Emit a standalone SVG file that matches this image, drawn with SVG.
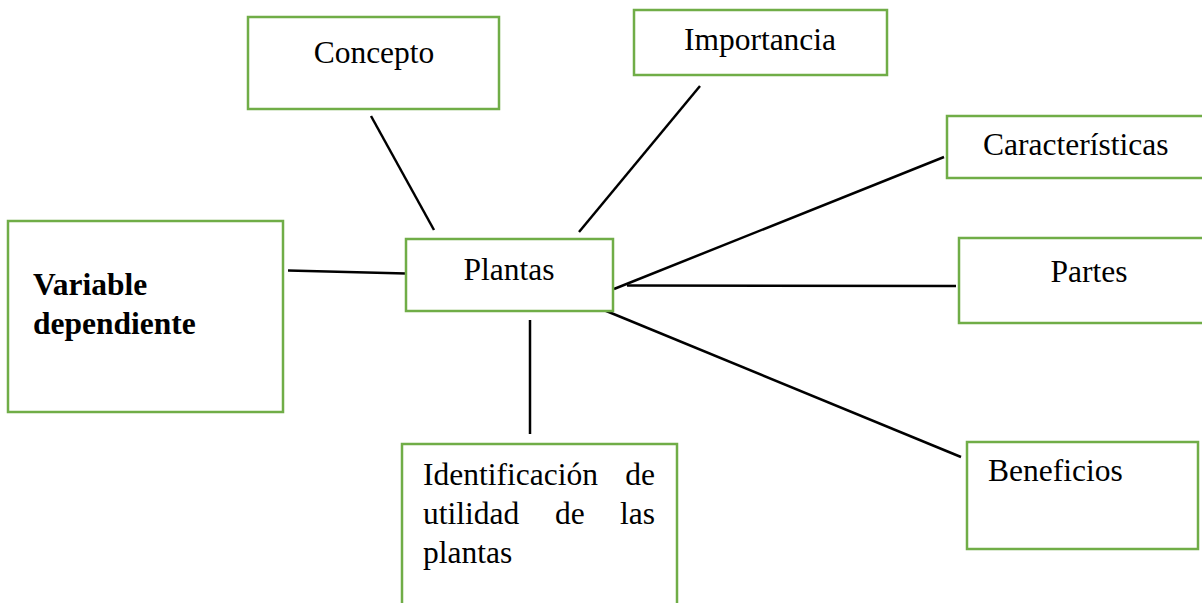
<svg xmlns="http://www.w3.org/2000/svg" width="1202" height="603" viewBox="0 0 1202 603">
<style>
.box{fill:#fff;stroke:#70AD47;stroke-width:2.5}
.t{font-family:"Liberation Serif","Times New Roman",serif;font-size:31.5px;fill:#000}
.b{font-weight:bold}
.c{stroke:#000;stroke-width:2.5;fill:none}
</style>
<rect width="1202" height="603" fill="#fff"/>
<g id="connectors">
<line class="c" x1="288" y1="270.5" x2="406" y2="273.5"/>
<line class="c" x1="371" y1="116" x2="434" y2="230"/>
<line class="c" x1="700" y1="86" x2="579" y2="232"/>
<line class="c" x1="614" y1="289" x2="944" y2="157"/>
<line class="c" x1="627" y1="285.5" x2="956" y2="286"/>
<line class="c" x1="599" y1="308" x2="961" y2="457"/>
<line class="c" x1="530" y1="320" x2="530" y2="434"/>
</g>
<g id="variable">
<rect class="box" x="8" y="221" width="275" height="191"/>
<text class="t b" x="33" y="295">Variable</text>
<text class="t b" x="33" y="334">dependiente</text>
</g>
<g id="concepto">
<rect class="box" x="248" y="17" width="251" height="92"/>
<text class="t" x="374" y="63" text-anchor="middle">Concepto</text>
</g>
<g id="importancia">
<rect class="box" x="634" y="10" width="253" height="65"/>
<text class="t" x="760" y="50" text-anchor="middle">Importancia</text>
</g>
<g id="plantas">
<rect class="box" x="406" y="239" width="207" height="72"/>
<text class="t" x="509" y="280" text-anchor="middle">Plantas</text>
</g>
<g id="caracteristicas">
<rect class="box" x="947" y="116" width="258" height="62"/>
<text class="t" x="983" y="155">Características</text>
</g>
<g id="partes">
<rect class="box" x="959" y="238" width="246" height="85"/>
<text class="t" x="1089" y="282" text-anchor="middle">Partes</text>
</g>
<g id="beneficios">
<rect class="box" x="967" y="442" width="231" height="107"/>
<text class="t" x="988" y="481">Beneficios</text>
</g>
<g id="identificacion">
<rect class="box" x="402" y="444" width="275" height="170"/>
<text class="t" x="423" y="485">Identificación</text>
<text class="t" x="655" y="485" text-anchor="end">de</text>
<text class="t" x="423" y="524">utilidad</text>
<text class="t" x="555" y="524">de</text>
<text class="t" x="655" y="524" text-anchor="end">las</text>
<text class="t" x="423" y="563">plantas</text>
</g>
</svg>
